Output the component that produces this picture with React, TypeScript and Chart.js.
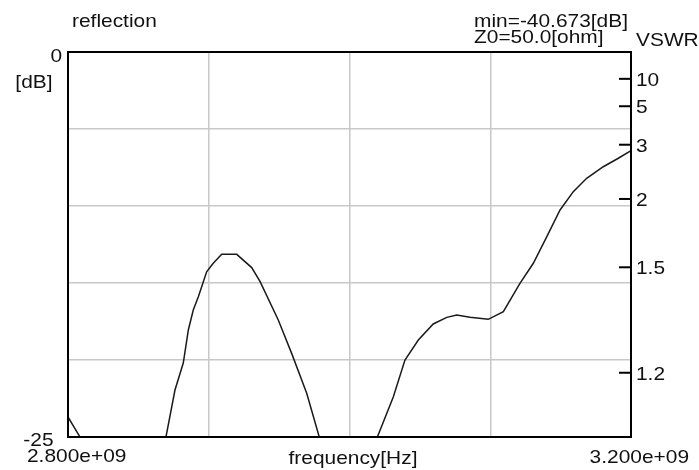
import { useEffect, useRef } from "react";
import { Chart, registerables } from "chart.js";

Chart.register(...registerables);

// Sweep frequencies (GHz) and measured reflection (dB)
const frequencyGHz = [
  2.8, 2.8085, 2.82, 2.835, 2.848, 2.86, 2.8696, 2.876, 2.8819, 2.8855, 2.889,
  2.8926, 2.8985, 2.9032, 2.9092, 2.9199, 2.9305, 2.9364, 2.9494, 2.9589,
  2.9696, 2.9785, 2.985, 2.993, 2.999, 3.006, 3.013, 3.0198, 3.0311, 3.0394,
  3.0489, 3.0595, 3.0691, 3.0762, 3.0856, 3.0986, 3.1093, 3.1211, 3.1306,
  3.1401, 3.1496, 3.159, 3.1685, 3.1803, 3.191, 3.2,
];
const reflectionDb = [
  -23.7, -25.0, -29.0, -33.0, -31.0, -27.8, -25.0, -21.95, -20.2, -18.05,
  -16.75, -15.9, -14.27, -13.72, -13.14, -13.14, -14.0, -14.9, -17.4, -19.57,
  -22.16, -25.0, -29.0, -35.0, -40.673, -33.0, -27.5, -25.0, -22.4, -20.0,
  -18.7, -17.66, -17.23, -17.08, -17.23, -17.36, -16.86, -15.02, -13.72, -12.0,
  -10.26, -9.07, -8.2, -7.45, -6.9, -6.41,
];

// Axis ranges
const freqStartHz = 2.8e9;
const freqStopHz = 3.2e9;
const freqStepHz = 1e8;
const dbTop = 0;
const dbBottom = -25;
const dbStep = 5;

// VSWR scale on the right
const vswrValues = [10, 5, 3, 2, 1.5, 1.2];
const vswrLabels = ["10", "5", "3", "2", "1.5", "1.2"];

const impedanceOhm = 50.0;

const FONT = '19px "Liberation Sans", Arial, sans-serif';
const TEXT_SX = 1.1;
const TEXT_COLOR = "#111";

const vswrToDb = (s: number) => 20 * Math.log10((s - 1) / (s + 1));

function drawText(
  ctx: CanvasRenderingContext2D,
  str: string,
  x: number,
  y: number,
  align: CanvasTextAlign
) {
  ctx.save();
  ctx.translate(x, y);
  ctx.scale(TEXT_SX, 1);
  ctx.font = FONT;
  ctx.fillStyle = TEXT_COLOR;
  ctx.textAlign = align;
  ctx.textBaseline = "alphabetic";
  ctx.fillText(str, 0, 0);
  ctx.restore();
}

const framePlugin = {
  id: "reflectionFrame",
  afterDraw(chart: any) {
    const { ctx, chartArea: a, scales } = chart;
    const y = scales.y;
    ctx.save();
    ctx.strokeStyle = "#000";
    ctx.lineWidth = 2;
    ctx.strokeRect(a.left, a.top, a.right - a.left, a.bottom - a.top);

    // VSWR ticks pointing inward, with labels outside
    vswrValues.forEach((s, i) => {
      const py = y.getPixelForValue(vswrToDb(s));
      ctx.beginPath();
      ctx.moveTo(a.right - 12, py);
      ctx.lineTo(a.right, py);
      ctx.stroke();
      drawText(ctx, vswrLabels[i], a.right + 5, py + 7, "left");
    });

    const minDb = Math.min(...reflectionDb);
    const topPx = y.getPixelForValue(dbTop);
    const botPx = y.getPixelForValue(dbBottom);

    drawText(ctx, "reflection", a.left + 4, a.top - 25.5, "left");
    drawText(ctx, String(dbTop), a.left - 6, topPx + 9.5, "right");
    drawText(ctx, "[dB]", a.left - 15.5, a.top + 35.5, "right");
    drawText(ctx, String(dbBottom), a.left - 14.5, botPx + 8.5, "right");
    drawText(ctx, freqStartHz.toExponential(3).replace("e+", "e+0"), 27, a.bottom + 25, "left");
    drawText(ctx, "frequency[Hz]", (a.left + a.right) / 2 + 3.5, a.bottom + 26.5, "center");
    drawText(ctx, freqStopHz.toExponential(3).replace("e+", "e+0"), 689, a.bottom + 26, "right");
    drawText(ctx, `min=${minDb.toFixed(3)}[dB]`, 474, a.top - 25, "left");
    drawText(ctx, `Z0=${impedanceOhm.toFixed(1)}[ohm]`, 474, a.top - 9.5, "left");
    drawText(ctx, "VSWR", a.right + 5, a.top - 6.5, "left");
    ctx.restore();
  },
};

export default function App() {
  const canvasRef = useRef<HTMLCanvasElement | null>(null);

  useEffect(() => {
    if (!canvasRef.current) return;
    const points = frequencyGHz.map((f, i) => ({ x: f * 1e9, y: reflectionDb[i] }));
    const grid = { color: "#c8c8c8", lineWidth: 1.5, drawTicks: false };
    const chart = new Chart(canvasRef.current, {
      type: "line",
      data: {
        datasets: [
          {
            data: points,
            borderColor: "#1a1a1a",
            borderWidth: 1.5,
            pointRadius: 0,
            tension: 0,
            fill: false,
          },
        ],
      },
      options: {
        responsive: false,
        animation: false,
        events: [],
        layout: { padding: { top: 52, right: 68, left: 0, bottom: 0 } },
        plugins: { legend: { display: false }, tooltip: { enabled: false } },
        scales: {
          x: {
            type: "linear",
            min: freqStartHz,
            max: freqStopHz,
            ticks: { display: false, stepSize: freqStepHz },
            grid,
            border: { display: false },
            afterFit: (axis: any) => {
              axis.height = 33;
            },
          },
          y: {
            type: "linear",
            min: dbBottom,
            max: dbTop,
            ticks: { display: false, stepSize: dbStep },
            grid,
            border: { display: false },
            afterFit: (axis: any) => {
              axis.width = 68;
            },
          },
        },
      },
      plugins: [framePlugin],
    });
    return () => chart.destroy();
  }, []);

  return (
    <div style={{ position: "fixed", left: 0, top: 0, width: 699, height: 470, background: "#fff" }}>
      <canvas ref={canvasRef} width={699} height={470} />
    </div>
  );
}
